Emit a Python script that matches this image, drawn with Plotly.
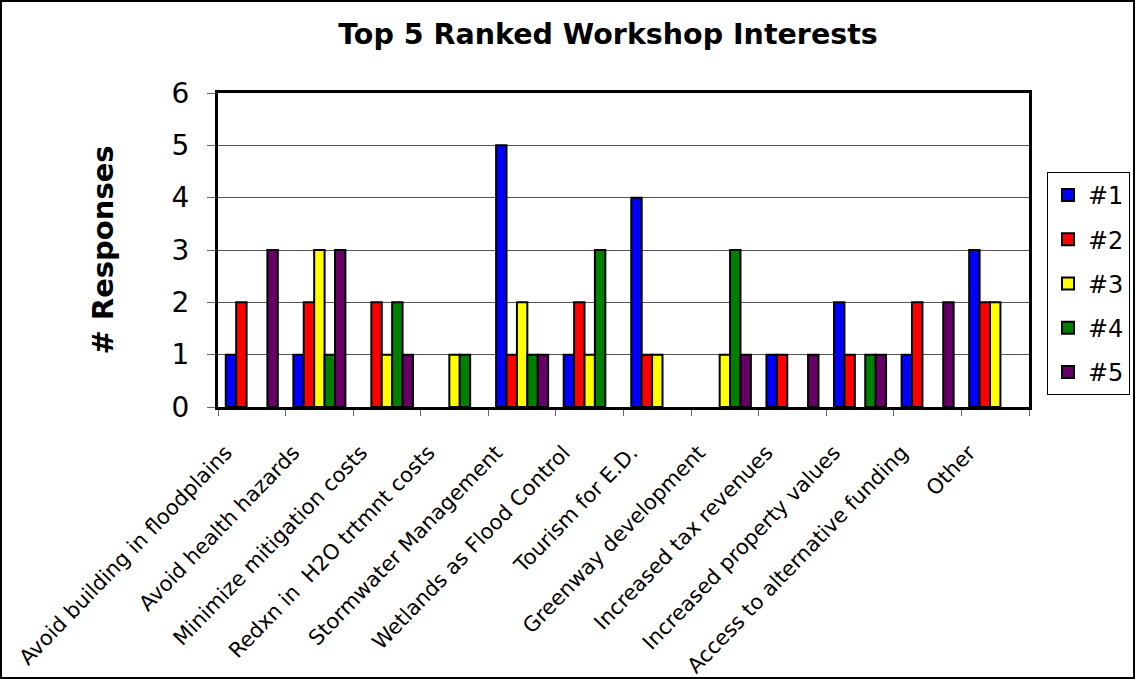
import plotly.graph_objects as go

categories = [
    "Avoid building in floodplains",
    "Avoid health hazards",
    "Minimize mitigation costs",
    "Redxn in \u00a0H2O trtmnt costs",
    "Stormwater Management",
    "Wetlands as Flood Control",
    "Tourism for E.D.",
    "Greenway development",
    "Increased tax revenues",
    "Increased property values",
    "Access to alternative funding",
    "Other",
]
rank1 = [1, 1, 0, 0, 5, 1, 4, 0, 1, 2, 1, 3]
rank2 = [2, 2, 2, 0, 1, 2, 1, 0, 1, 1, 2, 2]
rank3 = [0, 3, 1, 1, 2, 1, 1, 1, 0, 0, 0, 2]
rank4 = [0, 1, 2, 1, 1, 3, 0, 3, 0, 1, 0, 0]
rank5 = [3, 3, 1, 0, 1, 0, 0, 1, 1, 1, 2, 0]
series_names = ["#1", "#2", "#3", "#4", "#5"]
series_values = [rank1, rank2, rank3, rank4, rank5]
colors = ["#0000FF", "#FF0000", "#FFFF00", "#008000", "#660066"]

FONT = "DejaVu Sans, Verdana, sans-serif"

fig = go.Figure()
for name, vals, col in zip(series_names, series_values, colors):
    fig.add_trace(go.Bar(
        x=categories, y=[v if v != 0 else None for v in vals], name=name,
        legendgroup=name,
        marker=dict(color=col, line=dict(color="black", width=2)),
    ))

W, H = 1136, 679
ml, mr, mt, mb = 218, 107, 93, 272
pw, ph = W - ml - mr, H - mt - mb

fig.update_layout(
    width=W, height=H,
    margin=dict(l=ml, r=mr, t=mt, b=mb, autoexpand=False),
    paper_bgcolor="white", plot_bgcolor="white",
    barmode="group", bargap=0.23, bargroupgap=0,
    font=dict(family=FONT, color="black"),
    title=dict(text="<b>Top 5 Ranked Workshop Interests</b>", x=608 / W, xanchor="center",
               y=1 - 34 / H, yanchor="middle", font=dict(size=28.5, family=FONT)),
    legend=dict(x=(1047 - ml) / pw, xanchor="left", y=(H - mb - 172) / ph, yanchor="top",
                bordercolor="black", borderwidth=1, bgcolor="white",
                font=dict(size=24, family=FONT), traceorder="grouped",
                tracegroupgap=10, itemwidth=30),
    xaxis=dict(tickangle=-46, tickfont=dict(size=21, family=FONT), showline=True,
               linecolor="black", linewidth=3, mirror=True, ticks="outside",
               tickson="boundaries", ticklen=6, tickcolor="#666666", showgrid=False,
               ticklabelstandoff=22, ticklabelshift=-26),
    yaxis=dict(range=[0, 6], dtick=1, tickfont=dict(size=28, family=FONT), showline=True,
               linecolor="black", linewidth=3, mirror=True, ticks="outside",
               ticklen=8, tickcolor="#666666", ticklabelstandoff=12,
               showgrid=True, gridcolor="#555555", gridwidth=1, zeroline=False,
               title=dict(text="<b># Responses</b>", font=dict(size=29, family=FONT),
                          standoff=50)),
    shapes=[dict(type="rect", xref="paper", yref="paper",
                 x0=-(ml - 1) / pw, x1=1 + (mr - 2) / pw,
                 y0=-(mb - 1) / ph, y1=1 + (mt - 1) / ph,
                 line=dict(color="black", width=2))],
)

fig.write_html(
    "out.html",
    config={"displayModeBar": False},
    post_script="document.body.style.margin='0';document.body.style.overflow='hidden';",
)
